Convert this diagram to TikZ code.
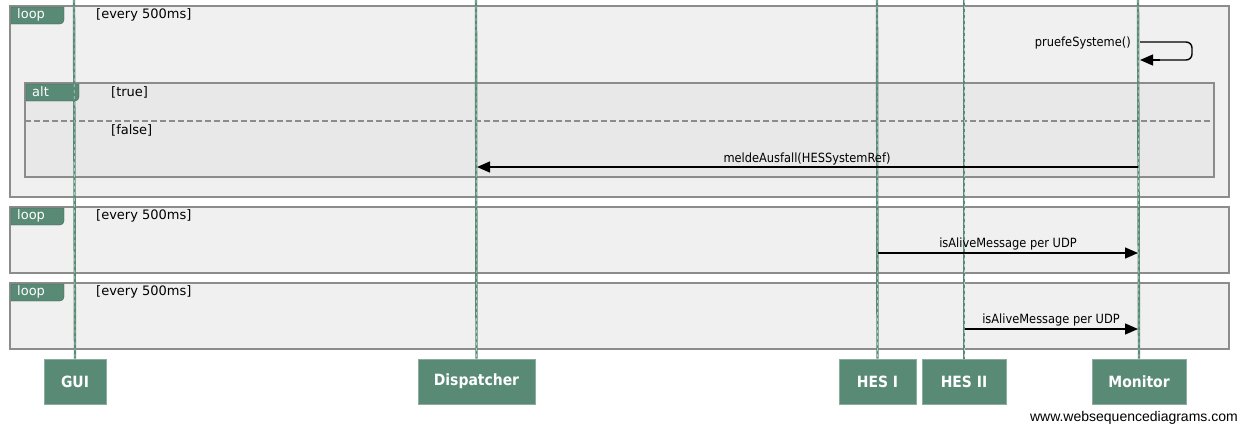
\documentclass[tikz,border=0pt]{standalone}
\usepackage{fontspec}
\setmainfont{DejaVu Sans Condensed}
\newfontfamily\widefont{DejaVu Sans}
\newfontfamily\wsdfont{Liberation Sans}
\usetikzlibrary{arrows.meta}
\definecolor{wsdgreen}{RGB}{88,138,117}
\definecolor{wsdframe}{RGB}{140,140,140}
\definecolor{wsdfill}{RGB}{240,240,240}
\definecolor{wsdalt}{RGB}{232,232,232}
\tikzset{
  frame/.style={draw=wsdframe, line width=1.8pt, fill=wsdfill},
  altframe/.style={draw=wsdframe, line width=1.8pt, fill=wsdalt},
  tab/.style={fill=wsdgreen, draw=wsdgreen!70!black, line width=0.3pt},
  tabtext/.style={anchor=west, text=white, font=\widefont\fontsize{13}{14}\selectfont, inner sep=0pt},
  guard/.style={anchor=west, font=\widefont\fontsize{13}{14}\selectfont, inner sep=0pt},
  actor/.style={fill=wsdgreen, draw=wsdgreen!70!white, line width=0.8pt, text=white,
    font=\bfseries\fontsize{15.5}{17}\selectfont, inner sep=0pt, minimum height=45pt},
  life/.style={draw=wsdgreen, line width=2.4pt},
  lifedash/.style={draw=wsdgreen!45!white, line width=0.7pt, dash pattern=on 3pt off 3pt},
  msg/.style={draw=black, line width=1.4pt, -{Triangle[length=13pt,width=11pt]}},
  msglabel/.style={font=\fontsize{12.7}{14}\selectfont, inner sep=0pt}
}
\begin{document}
\begin{tikzpicture}[x=1pt,y=-1pt]
\useasboundingbox (0,0) rectangle (1239,426);
% frames
\draw[frame] (10,6) rectangle (1229,197);
\draw[altframe] (25,83) rectangle (1214,177);
\draw[wsdframe, line width=1.5pt, dash pattern=on 6pt off 3pt] (25,121) -- (1214,121);
\draw[frame] (10,207) rectangle (1229,273);
\draw[frame] (10,283) rectangle (1229,349);
% tabs
\draw[tab, rounded corners=0pt] (11,7) -- (64,7) [rounded corners=4pt] -- (64,24) [rounded corners=0pt] -- (11,24) -- cycle;
\node[tabtext] (tab1) at (17,15) {loop};
\node[guard] (g1) at (96,15) {[every 500ms]};
\draw[tab, rounded corners=0pt] (26,84) -- (79,84) [rounded corners=4pt] -- (79,101) [rounded corners=0pt] -- (26,101) -- cycle;
\node[tabtext] (tab2) at (32,92) {alt};
\node[guard] (g2) at (111,92) {[true]};
\node[guard] (g3) at (111,130) {[false]};
\draw[tab, rounded corners=0pt] (11,208) -- (64,208) [rounded corners=4pt] -- (64,225) [rounded corners=0pt] -- (11,225) -- cycle;
\node[tabtext] (tab3) at (17,216) {loop};
\node[guard] (g4) at (96,216) {[every 500ms]};
\draw[tab, rounded corners=0pt] (11,284) -- (64,284) [rounded corners=4pt] -- (64,301) [rounded corners=0pt] -- (11,301) -- cycle;
\node[tabtext] (tab4) at (17,292) {loop};
\node[guard] (g5) at (96,292) {[every 500ms]};
% actors
\node[actor, minimum width=62pt] (gui) at (75,381.5) {GUI};
\node[actor, minimum width=117pt] (disp) at (476.5,381.5) {Dispatcher};
\node[actor, minimum width=77pt] (hes1) at (877.5,381.5) {HES I};
\node[actor, minimum width=84pt] (hes2) at (964,381.5) {HES II};
\node[actor, minimum width=94pt] (mon) at (1139,381.5) {Monitor};
% lifelines
\foreach \a/\x in {gui/74,disp/476,hes1/877,hes2/964,mon/1138}{
  \coordinate (\a top) at (\x,0);
  \draw[life] (\a top) -- (\a.north);
  \draw[lifedash] (\a top) -- (\a.north);
}
% messages
\coordinate (ps1) at (1140,42);
\coordinate (ps2) at (1140,60);
\draw[line width=1.4pt, rounded corners=6pt] (ps1) -- (1192,42) -- (1192,60) -- (1160,60);
\draw[msg] (1160,60) -- (ps2);
\node[msglabel, anchor=east] (pslabel) at (1131,43) {pruefeSysteme()};
\coordinate (ma1) at (1138,167);
\coordinate (ma2) at (477,167);
\draw[msg] (ma1) -- (ma2);
\node[msglabel] (malabel) at (807,159) {meldeAusfall(HESSystemRef)};
\coordinate (ia1) at (878,253);
\coordinate (ia2) at (1138,253);
\draw[msg] (ia1) -- (ia2);
\node[msglabel] (ialabel) at (1008,244) {isAliveMessage per UDP};
\coordinate (ib1) at (965,329);
\coordinate (ib2) at (1138,329);
\draw[msg] (ib1) -- (ib2);
\node[msglabel] (iblabel) at (1051,320) {isAliveMessage per UDP};
% watermark
\node[font=\wsdfont\fontsize{14}{16}\selectfont, anchor=east, inner sep=0pt] (wm) at (1238,418) {www.websequencediagrams.com};
\end{tikzpicture}
\end{document}
